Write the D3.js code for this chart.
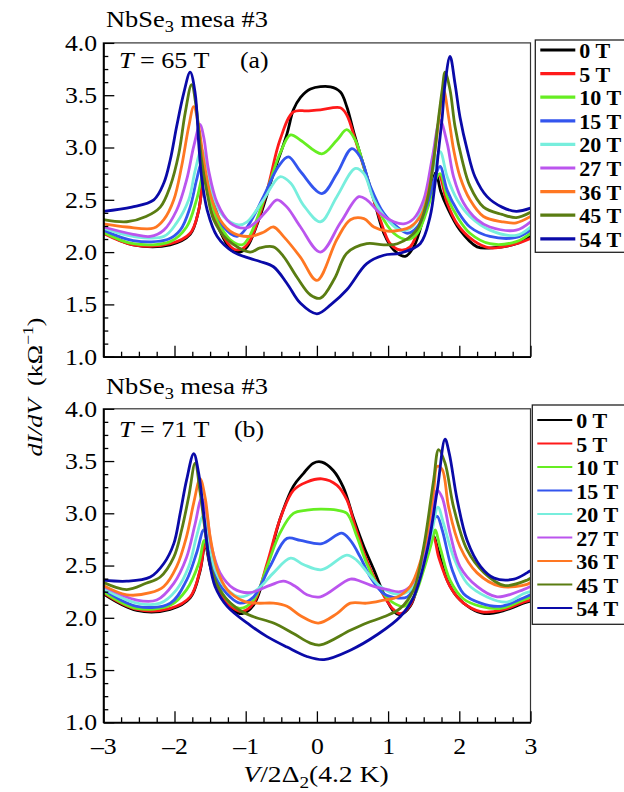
<!DOCTYPE html>
<html>
<head>
<meta charset="utf-8">
<script src="https://cdn.jsdelivr.net/npm/d3@7"></script>
<style>
  body { margin: 0; background: #fff; }
  svg text { font-family: "Liberation Serif", "Times New Roman", serif; fill: #000; }
</style>
</head>
<body>
<svg id="chart" width="624" height="792"></svg>
<script>
// field labels and colours (legend order)
const fields = ["0 T", "5 T", "10 T", "15 T", "20 T", "27 T", "36 T", "45 T", "54 T"];
const colors = ["#000000", "#ff1a1a", "#66ee22", "#3355ee", "#77eedd", "#bb55ee", "#ff7722", "#5a7d12", "#0a0aa8"];

// tick values
const xMajor = [-3, -2, -1, 0, 1, 2, 3];
const xMinor = [-2.75, -2.5, -2.25, -1.75, -1.5, -1.25, -0.75, -0.5, -0.25, 0.25, 0.5, 0.75, 1.25, 1.5, 1.75, 2.25, 2.5, 2.75];
const yMajor = [1.0, 1.5, 2.0, 2.5, 3.0, 3.5, 4.0];
const yMinor = [1.125, 1.25, 1.375, 1.625, 1.75, 1.875, 2.125, 2.25, 2.375, 2.625, 2.75, 2.875, 3.125, 3.25, 3.375, 3.625, 3.75, 3.875];

// panel (a), T = 65 T : [V/2Δ2, dI/dV]
const a00 = [[-3,2.19],[-2.58,2.07],[-2.06,2.07],[-1.78,2.17],[-1.66,2.4],[-1.58,2.75],[-1.5,2.5],[-1.36,2.2],[-1.2,2.02],[-1.08,2.0],[-0.98,2.05],[-0.8,2.34],[-0.61,2.75],[-0.42,3.13],[-0.33,3.36],[-0.23,3.48],[-0.09,3.56],[0.19,3.58],[0.33,3.53],[0.42,3.39],[0.52,3.14],[0.66,2.82],[0.8,2.5],[0.94,2.18],[1.08,2.02],[1.24,1.96],[1.36,2.05],[1.5,2.34],[1.62,2.68],[1.67,2.76],[1.74,2.58],[1.83,2.43],[2.01,2.21],[2.25,2.05],[2.45,2.04],[2.8,2.08],[3.0,2.15]];
const a05 = [[-3,2.18],[-2.58,2.07],[-2.06,2.08],[-1.78,2.18],[-1.66,2.4],[-1.58,2.75],[-1.5,2.5],[-1.36,2.21],[-1.17,2.03],[-1.05,2.03],[-0.94,2.11],[-0.7,2.59],[-0.52,3.07],[-0.33,3.34],[-0.14,3.35],[0.05,3.36],[0.33,3.38],[0.42,3.31],[0.54,3.07],[0.7,2.72],[0.89,2.31],[1.03,2.08],[1.17,2.02],[1.31,2.05],[1.48,2.34],[1.62,2.65],[1.71,2.74],[1.83,2.47],[1.97,2.27],[2.2,2.11],[2.43,2.04],[2.8,2.08],[3.0,2.13]];
const a10 = [[-3,2.19],[-2.58,2.08],[-2.06,2.1],[-1.83,2.24],[-1.69,2.5],[-1.59,2.75],[-1.52,2.56],[-1.4,2.31],[-1.22,2.12],[-1.05,2.07],[-0.94,2.16],[-0.7,2.59],[-0.52,2.94],[-0.37,3.12],[-0.23,3.07],[0.07,2.94],[0.28,3.07],[0.42,3.17],[0.54,3.07],[0.7,2.72],[0.89,2.37],[1.08,2.18],[1.27,2.12],[1.41,2.18],[1.57,2.45],[1.66,2.68],[1.73,2.75],[1.83,2.53],[1.97,2.34],[2.15,2.18],[2.43,2.08],[2.8,2.1],[3.0,2.18]];
const a15 = [[-3,2.21],[-2.58,2.11],[-2.1,2.12],[-1.92,2.21],[-1.78,2.43],[-1.69,2.69],[-1.62,2.85],[-1.54,2.69],[-1.45,2.47],[-1.31,2.24],[-1.12,2.15],[-0.98,2.24],[-0.75,2.53],[-0.54,2.82],[-0.4,2.91],[-0.23,2.77],[0.07,2.56],[0.28,2.75],[0.49,2.99],[0.61,2.91],[0.75,2.63],[0.94,2.37],[1.13,2.24],[1.27,2.18],[1.41,2.24],[1.57,2.5],[1.66,2.72],[1.73,2.82],[1.83,2.59],[1.97,2.4],[2.15,2.24],[2.43,2.15],[2.8,2.14],[3.0,2.21]];
const a20 = [[-3,2.23],[-2.58,2.15],[-2.15,2.15],[-1.97,2.28],[-1.8,2.5],[-1.71,2.78],[-1.62,2.98],[-1.54,2.82],[-1.47,2.56],[-1.31,2.34],[-1.1,2.26],[-0.98,2.29],[-0.75,2.5],[-0.52,2.72],[-0.37,2.66],[-0.19,2.45],[0.05,2.29],[0.28,2.53],[0.54,2.8],[0.66,2.75],[0.8,2.5],[0.99,2.31],[1.17,2.21],[1.34,2.24],[1.52,2.5],[1.64,2.8],[1.73,2.96],[1.83,2.72],[1.97,2.5],[2.15,2.34],[2.43,2.21],[2.8,2.16],[3.0,2.24]];
const a27 = [[-3,2.24],[-2.58,2.17],[-2.34,2.15],[-2.15,2.21],[-1.97,2.4],[-1.83,2.69],[-1.73,3.01],[-1.64,3.22],[-1.59,3.1],[-1.52,2.78],[-1.4,2.47],[-1.22,2.28],[-1.0,2.23],[-0.85,2.29],[-0.7,2.4],[-0.56,2.5],[-0.42,2.43],[-0.23,2.24],[0.05,2.0],[0.33,2.28],[0.59,2.53],[0.7,2.5],[0.89,2.37],[1.08,2.29],[1.22,2.27],[1.36,2.32],[1.5,2.5],[1.62,2.9],[1.73,3.26],[1.83,3.04],[1.92,2.72],[2.06,2.47],[2.25,2.31],[2.43,2.24],[2.8,2.21],[3.0,2.29]];
const a36 = [[-3,2.27],[-2.67,2.24],[-2.29,2.23],[-2.15,2.31],[-2.01,2.5],[-1.9,2.82],[-1.8,3.2],[-1.73,3.39],[-1.66,3.2],[-1.59,2.88],[-1.5,2.56],[-1.36,2.31],[-1.17,2.18],[-0.94,2.15],[-0.75,2.19],[-0.61,2.24],[-0.47,2.15],[-0.23,1.95],[0,1.73],[0.28,2.12],[0.47,2.31],[0.66,2.32],[0.8,2.24],[0.99,2.2],[1.17,2.21],[1.31,2.24],[1.47,2.36],[1.59,2.66],[1.66,2.98],[1.73,3.36],[1.78,3.55],[1.85,3.29],[1.92,2.98],[2.01,2.72],[2.15,2.5],[2.34,2.34],[2.6,2.29],[2.8,2.28],[3.0,2.34]];
const a45 = [[-3,2.31],[-2.67,2.29],[-2.4,2.34],[-2.2,2.43],[-2.06,2.63],[-1.94,2.94],[-1.85,3.33],[-1.76,3.6],[-1.69,3.36],[-1.62,2.88],[-1.54,2.56],[-1.45,2.31],[-1.26,2.12],[-0.94,2.0],[-0.8,2.04],[-0.61,2.05],[-0.47,1.96],[-0.28,1.76],[-0.09,1.59],[0.05,1.56],[0.25,1.75],[0.42,1.99],[0.7,2.08],[0.94,2.07],[1.13,2.08],[1.4,2.21],[1.55,2.5],[1.64,2.88],[1.71,3.29],[1.76,3.55],[1.8,3.72],[1.87,3.55],[1.94,3.2],[2.04,2.88],[2.15,2.63],[2.34,2.43],[2.6,2.36],[2.8,2.33],[3.0,2.38]];
const a54 = [[-3,2.39],[-2.6,2.43],[-2.29,2.5],[-2.15,2.66],[-2.06,2.88],[-1.97,3.2],[-1.87,3.52],[-1.78,3.72],[-1.71,3.52],[-1.66,3.04],[-1.62,2.72],[-1.54,2.4],[-1.4,2.15],[-1.17,2.0],[-0.94,1.94],[-0.8,1.91],[-0.61,1.86],[-0.42,1.7],[-0.23,1.51],[0,1.41],[0.2,1.5],[0.42,1.64],[0.7,1.89],[0.94,1.97],[1.17,1.99],[1.45,2.08],[1.59,2.34],[1.66,2.66],[1.71,2.98],[1.76,3.29],[1.8,3.61],[1.87,3.87],[1.94,3.61],[2.01,3.29],[2.11,2.98],[2.22,2.72],[2.39,2.53],[2.6,2.43],[2.8,2.39],[3.0,2.42]];

// panel (b), T = 71 T
const b00 = [[-3,2.23],[-2.53,2.07],[-2.06,2.08],[-1.78,2.19],[-1.64,2.45],[-1.57,2.7],[-1.5,2.5],[-1.36,2.22],[-1.17,2.07],[-1.05,2.04],[-0.89,2.12],[-0.7,2.49],[-0.52,2.94],[-0.33,3.26],[-0.19,3.38],[-0.05,3.48],[0.07,3.49],[0.23,3.41],[0.37,3.25],[0.52,2.94],[0.66,2.68],[0.8,2.46],[0.94,2.23],[1.08,2.06],[1.17,2.03],[1.31,2.11],[1.45,2.39],[1.57,2.68],[1.64,2.78],[1.69,2.68],[1.83,2.36],[1.97,2.2],[2.16,2.09],[2.35,2.04],[2.63,2.07],[2.9,2.14],[3.0,2.16]];
const b05 = [[-3,2.24],[-2.53,2.08],[-2.06,2.09],[-1.78,2.2],[-1.64,2.46],[-1.57,2.71],[-1.5,2.52],[-1.36,2.23],[-1.17,2.09],[-1.05,2.06],[-0.89,2.14],[-0.7,2.52],[-0.52,2.94],[-0.33,3.22],[-0.14,3.3],[0.07,3.33],[0.28,3.27],[0.42,3.13],[0.54,2.87],[0.7,2.55],[0.89,2.27],[1.06,2.09],[1.17,2.04],[1.31,2.12],[1.45,2.39],[1.57,2.68],[1.64,2.77],[1.71,2.58],[1.87,2.3],[2.06,2.14],[2.3,2.06],[2.58,2.07],[2.9,2.15],[3.0,2.17]];
const b10 = [[-3,2.25],[-2.53,2.09],[-2.06,2.12],[-1.83,2.27],[-1.66,2.52],[-1.58,2.74],[-1.5,2.55],[-1.38,2.3],[-1.22,2.14],[-1.08,2.09],[-0.89,2.17],[-0.7,2.49],[-0.52,2.81],[-0.33,3.0],[-0.14,3.03],[0.05,3.04],[0.28,3.03],[0.42,3.0],[0.56,2.78],[0.7,2.52],[0.89,2.27],[1.08,2.14],[1.22,2.11],[1.36,2.2],[1.5,2.46],[1.62,2.74],[1.66,2.84],[1.74,2.65],[1.87,2.36],[2.06,2.18],[2.3,2.11],[2.58,2.09],[2.9,2.17],[3.0,2.2]];
const b15 = [[-3,2.27],[-2.53,2.11],[-2.06,2.14],[-1.83,2.36],[-1.69,2.62],[-1.59,2.84],[-1.52,2.62],[-1.4,2.36],[-1.22,2.2],[-1.08,2.14],[-0.89,2.2],[-0.66,2.49],[-0.42,2.76],[-0.23,2.74],[0.07,2.71],[0.35,2.81],[0.47,2.74],[0.61,2.58],[0.75,2.39],[0.94,2.23],[1.13,2.19],[1.27,2.2],[1.41,2.36],[1.55,2.68],[1.64,2.94],[1.69,2.97],[1.76,2.84],[1.9,2.46],[2.06,2.23],[2.3,2.14],[2.58,2.11],[2.9,2.19],[3.0,2.22]];
const b20 = [[-3,2.28],[-2.53,2.14],[-2.2,2.14],[-1.97,2.27],[-1.8,2.49],[-1.69,2.78],[-1.6,2.97],[-1.52,2.75],[-1.43,2.46],[-1.26,2.27],[-1.08,2.2],[-0.84,2.27],[-0.61,2.43],[-0.37,2.57],[-0.19,2.51],[0.07,2.46],[0.42,2.6],[0.56,2.55],[0.7,2.44],[0.89,2.3],[1.08,2.23],[1.22,2.23],[1.36,2.3],[1.5,2.52],[1.62,2.84],[1.7,3.06],[1.78,2.9],[1.92,2.58],[2.11,2.33],[2.39,2.2],[2.67,2.15],[2.9,2.23],[3.0,2.25]];
const b27 = [[-3,2.3],[-2.53,2.17],[-2.25,2.17],[-2.01,2.33],[-1.83,2.58],[-1.71,2.9],[-1.62,3.14],[-1.55,3.0],[-1.48,2.68],[-1.36,2.43],[-1.17,2.28],[-0.95,2.24],[-0.66,2.31],[-0.47,2.35],[-0.3,2.3],[-0.14,2.22],[0.05,2.2],[0.47,2.37],[0.61,2.35],[0.8,2.3],[0.99,2.27],[1.17,2.25],[1.31,2.3],[1.45,2.49],[1.59,2.9],[1.69,3.22],[1.76,3.15],[1.87,2.81],[2.01,2.49],[2.25,2.3],[2.53,2.2],[2.9,2.27],[3.0,2.3]];
const b36 = [[-3,2.31],[-2.67,2.22],[-2.34,2.24],[-2.15,2.3],[-1.97,2.49],[-1.83,2.78],[-1.73,3.1],[-1.64,3.33],[-1.57,3.15],[-1.5,2.78],[-1.4,2.46],[-1.26,2.27],[-1.03,2.16],[-0.84,2.14],[-0.61,2.14],[-0.42,2.11],[-0.23,2.02],[0.02,1.95],[0.28,2.04],[0.47,2.14],[0.7,2.14],[0.94,2.17],[1.13,2.2],[1.31,2.3],[1.5,2.65],[1.64,3.22],[1.69,3.45],[1.76,3.42],[1.85,3.06],[2.01,2.68],[2.25,2.43],[2.58,2.3],[2.95,2.32],[3.0,2.34]];
const b45 = [[-3,2.34],[-2.67,2.27],[-2.4,2.33],[-2.2,2.39],[-2.01,2.58],[-1.9,2.84],[-1.8,3.16],[-1.71,3.48],[-1.64,3.2],[-1.57,2.84],[-1.48,2.46],[-1.33,2.23],[-1.08,2.07],[-0.89,2.01],[-0.61,1.95],[-0.33,1.85],[-0.1,1.76],[0.05,1.74],[0.47,1.88],[0.7,1.95],[0.94,2.01],[1.17,2.09],[1.36,2.27],[1.5,2.68],[1.64,3.32],[1.71,3.61],[1.8,3.48],[1.92,3.06],[2.11,2.65],[2.35,2.43],[2.63,2.31],[2.95,2.36],[3.0,2.38]];
const b54 = [[-3,2.36],[-2.67,2.35],[-2.34,2.39],[-2.15,2.52],[-2.01,2.71],[-1.92,3.0],[-1.83,3.32],[-1.73,3.57],[-1.66,3.38],[-1.59,3.0],[-1.52,2.58],[-1.43,2.3],[-1.26,2.11],[-0.94,1.93],[-0.7,1.82],[-0.42,1.72],[-0.14,1.63],[0.1,1.6],[0.47,1.69],[0.85,1.84],[1.17,2.01],[1.36,2.2],[1.55,2.65],[1.69,3.22],[1.8,3.71],[1.86,3.57],[1.97,3.13],[2.11,2.74],[2.3,2.49],[2.49,2.38],[2.77,2.37],[2.95,2.43],[3.0,2.45]];

const curvesA = [a00, a05, a10, a15, a20, a27, a36, a45, a54];
const curvesB = [b00, b05, b10, b15, b20, b27, b36, b45, b54];

const svg = d3.select("#chart");
const x = d3.scaleLinear().domain([-3, 3]).range([103.3, 530.5]);
const fmt = d3.format(".1f");

// text helper: the original figure uses a wide serif
function label(g, px, py, anchor, size, sx, weight) {
  return g.append("text")
    .attr("transform", `translate(${px},${py}) scale(${sx},1)`)
    .attr("text-anchor", anchor)
    .style("font-size", size + "px")
    .style("font-weight", weight || "normal");
}

function drawPanel(cfg) {
  const y = d3.scaleLinear().domain([1, 4]).range([cfg.bottom, cfg.top]);
  const g = svg.append("g");

  g.append("clipPath").attr("id", "clip" + cfg.id)
    .append("rect")
    .attr("x", x(-3)).attr("y", y(4))
    .attr("width", x(3) - x(-3)).attr("height", y(1) - y(4));

  // curves
  const line = d3.line()
    .x(d => x(d[0]))
    .y(d => y(d[1]))
    .curve(d3.curveCatmullRom.alpha(0.5));
  g.append("g").attr("clip-path", `url(#clip${cfg.id})`)
    .selectAll("path")
    .data(cfg.curves)
    .join("path")
      .attr("d", line)
      .attr("fill", "none")
      .attr("stroke", (d, i) => colors[i])
      .attr("stroke-width", 2.8)
      .attr("stroke-linejoin", "round");

  // frame
  g.append("rect")
    .attr("x", x(-3)).attr("y", y(4))
    .attr("width", x(3) - x(-3)).attr("height", y(1) - y(4))
    .attr("fill", "none").attr("stroke", "#333").attr("stroke-width", 1.2);

  // y axis, ticks pointing inwards
  const yMin = g.append("g").attr("transform", `translate(${x(-3)},0)`)
    .call(d3.axisLeft(y).tickValues(yMinor).tickSize(-5).tickSizeOuter(0).tickFormat(""));
  const yMaj = g.append("g").attr("transform", `translate(${x(-3)},0)`)
    .call(d3.axisLeft(y).tickValues(yMajor).tickSize(-11).tickSizeOuter(0).tickPadding(6).tickFormat(fmt));
  yMaj.selectAll("text")
    .style("font-size", "23px")
    .attr("transform", "scale(1.12,1)")
    .attr("x", -5.5);

  // x axis
  const xMin = g.append("g").attr("transform", `translate(0,${y(1)})`)
    .call(d3.axisBottom(x).tickValues(xMinor).tickSize(-5).tickSizeOuter(0).tickFormat(""));
  const xMaj = g.append("g").attr("transform", `translate(0,${y(1)})`)
    .call(d3.axisBottom(x).tickValues(xMajor).tickSize(-11).tickSizeOuter(0).tickPadding(15)
      .tickFormat(d => cfg.xLabels ? (d < 0 ? "\u2013" + Math.abs(d) : d) : ""));
  xMaj.selectAll("text").style("font-size", "23px").attr("transform", "scale(1.12,1)");

  [yMin, yMaj, xMin, xMaj].forEach(a => {
    a.select(".domain").attr("stroke", "#000").attr("stroke-width", 1.6);
    a.selectAll(".tick line").attr("stroke", "#000").attr("stroke-width", 1.3);
  });

  // titles
  const t1 = label(svg, 106, cfg.titleY, "start", 23, 1.15);
  t1.append("tspan").text("NbSe");
  t1.append("tspan").attr("dy", 5).style("font-size", "16px").text("3");
  t1.append("tspan").attr("dy", -5).text(" mesa #3");

  const t2 = label(svg, 119, cfg.tempY, "start", 22.5, 1.16);
  t2.append("tspan").style("font-style", "italic").text("T");
  t2.append("tspan").text(" = " + cfg.temp + " T");
  label(svg, cfg.letterX, cfg.tempY, "start", 23, 1.12).text(cfg.letter);

  // legend
  const lg = svg.append("g");
  lg.append("rect")
    .attr("x", cfg.legX).attr("y", cfg.legTop)
    .attr("width", 110).attr("height", cfg.legBottom - cfg.legTop)
    .attr("fill", "#fff").attr("stroke", "#222").attr("stroke-width", 1.3);
  fields.forEach((f, i) => {
    const ry = cfg.legRow0 + i * cfg.legStep;
    lg.append("line")
      .attr("x1", cfg.legX + 5).attr("x2", cfg.legX + 40)
      .attr("y1", ry).attr("y2", ry)
      .attr("stroke", colors[i]).attr("stroke-width", cfg.legWidth);
    lg.append("text")
      .attr("x", cfg.legX + 44).attr("y", ry + 8)
      .style("font-size", "22px").style("font-weight", "bold")
      .text(f);
  });
}

drawPanel({ id: "a", top: 42.9, bottom: 356.7, curves: curvesA, xLabels: false,
  titleY: 27, tempY: 68, temp: "65", letter: "(a)", letterX: 240,
  legX: 535.3, legTop: 40, legBottom: 252.3, legRow0: 50, legStep: 23.6, legWidth: 3.2 });
drawPanel({ id: "b", top: 408.8, bottom: 722.3, curves: curvesB, xLabels: true,
  titleY: 394, tempY: 437, temp: "71", letter: "(b)", letterX: 234,
  legX: 532.3, legTop: 405, legBottom: 624.3, legRow0: 420, legStep: 23.5, legWidth: 2 });

// x axis title
const xt = label(svg, 316, 782, "middle", 23, 1.2);
xt.append("tspan").style("font-style", "italic").text("V");
xt.append("tspan").text("/2\u0394");
xt.append("tspan").attr("dy", 6).style("font-size", "16px").text("2");
xt.append("tspan").attr("dy", -6).text("(4.2 K)");

// y axis title
const yt = svg.append("text")
  .attr("transform", "translate(42,387) rotate(-90) scale(1.18,1)")
  .attr("text-anchor", "middle")
  .style("font-size", "22px");
yt.append("tspan").style("font-style", "italic").text("dI/dV");
yt.append("tspan").text("\u00a0\u00a0(k\u03a9");
yt.append("tspan").attr("dy", -9).style("font-size", "15px").text("\u22121");
yt.append("tspan").attr("dy", 9).text(")");
</script>
</body>
</html>
